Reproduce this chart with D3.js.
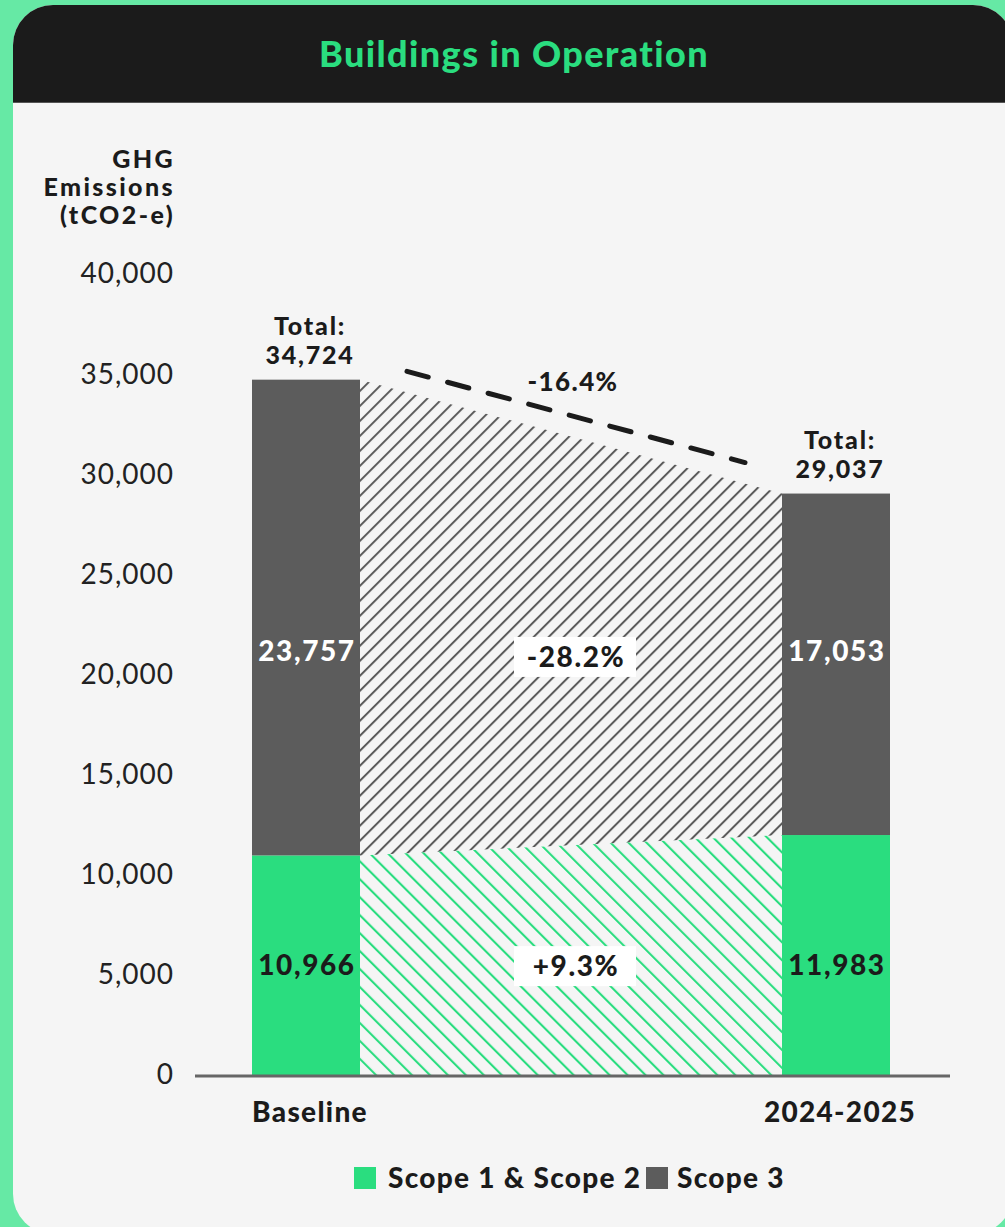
<!DOCTYPE html>
<html>
<head>
<meta charset="utf-8">
<script src="https://cdn.jsdelivr.net/npm/d3@7"></script>
<style>
  body { margin: 0; background: #66e9a5; }
  svg { display: block; }
</style>
</head>
<body>
<svg id="chart" width="1005" height="1227"></svg>
<script>
"use strict"

const categories = ["Baseline", "2024-2025"]
const scope12 = [10966, 11983]
const scope3 = [23757, 17053]
const totals = [34724, 29037]
const tickValues = [0, 5000, 10000, 15000, 20000, 25000, 30000, 35000, 40000]
const legendLabels = ["Scope 1 & Scope 2", "Scope 3"]

const GREEN = "#2add7f"
const GREY = "#5c5c5c"
const DARK = "#1b1b1b"
const FONT = "Lato, 'Open Sans', sans-serif"

const svg = d3.select("#chart")

// small helper for the bold labels
const bold = (sel, size, ls) => sel
    .style("font-family", FONT)
    .style("font-weight", 900)
    .style("font-size", size + "px")
    .style("letter-spacing", ls + "px")

// card
svg.append("rect")
    .attr("x", 13).attr("y", 5)
    .attr("width", 1000).attr("height", 1229)
    .attr("rx", 40)
    .attr("fill", "#f5f5f5")

// title bar, rounded only at top
svg.append("path")
    .attr("d", "M13,102 V45 A40,40 0 0 1 53,5 H973 A40,40 0 0 1 1013,45 V102 Z")
    .attr("fill", DARK)
svg.append("line")
    .attr("x1", 13).attr("x2", 1013)
    .attr("y1", 102.5).attr("y2", 102.5)
    .attr("stroke", "#555").attr("stroke-width", 1)

svg.append("text")
    .attr("x", 514).attr("y", 67)
    .attr("text-anchor", "middle")
    .attr("fill", GREEN)
    .call(bold, 36, 1.4)
    .text("Buildings in Operation")

// scales
const y = d3.scaleLinear().domain([0, 40000]).range([1075, 274])
const x = d3.scalePoint().domain(categories).range([306, 836])
const barW = 108

// patterns
const defs = svg.append("defs")
defs.append("pattern")
    .attr("id", "hatch-grey")
    .attr("patternUnits", "userSpaceOnUse")
    .attr("width", 10.6).attr("height", 10)
    .attr("patternTransform", "rotate(45)")
    .append("line")
    .attr("x1", 1).attr("x2", 1).attr("y1", 0).attr("y2", 10)
    .attr("stroke", GREY).attr("stroke-width", 2)

defs.append("pattern")
    .attr("id", "hatch-green")
    .attr("patternUnits", "userSpaceOnUse")
    .attr("width", 12.7).attr("height", 10)
    .attr("patternTransform", "rotate(-45)")
    .append("line")
    .attr("x1", 1).attr("x2", 1).attr("y1", 0).attr("y2", 10)
    .attr("stroke", GREEN).attr("stroke-width", 2.2)

// connecting hatched areas
const xl = x(categories[0]) + barW / 2
const xr = x(categories[1]) - barW / 2

svg.append("path")
    .attr("d", d3.line()([[xl, y(totals[0])], [xr, y(totals[1])], [xr, y(scope12[1])], [xl, y(scope12[0])]]) + "Z")
    .attr("fill", "url(#hatch-grey)")

svg.append("path")
    .attr("d", d3.line()([[xl, y(scope12[0])], [xr, y(scope12[1])], [xr, y(0)], [xl, y(0)]]) + "Z")
    .attr("fill", "url(#hatch-green)")

// stacked bars
const stackData = categories.map((c, i) => ({cat: c, s12: scope12[i], s3: scope3[i]}))
const series = d3.stack().keys(["s12", "s3"])(stackData)
const colors = {s12: GREEN, s3: GREY}

svg.selectAll(".layer")
    .data(series)
    .join("g")
    .attr("class", "layer")
    .attr("fill", d => colors[d.key])
    .selectAll("rect")
    .data(d => d)
    .join("rect")
    .attr("x", d => x(d.data.cat) - barW / 2)
    .attr("width", barW)
    .attr("y", d => y(d[1]))
    .attr("height", d => y(d[0]) - y(d[1]))

// y axis
const yAxis = d3.axisLeft(y).tickValues(tickValues).tickSize(0).tickPadding(0)
    .tickFormat(d3.format(","))
const gy = svg.append("g")
    .attr("transform", "translate(174,0)")
    .call(yAxis)
gy.select(".domain").remove()
gy.selectAll("text")
    .style("font-family", FONT)
    .style("font-size", "28px")
    .style("font-weight", 400)
    .style("letter-spacing", "1px")
    .attr("fill", "#222")

// x axis line
svg.append("line")
    .attr("x1", 195).attr("x2", 950)
    .attr("y1", y(0) + 1).attr("y2", y(0) + 1)
    .attr("stroke", "#666").attr("stroke-width", 3)

// y axis title
const yTitle = svg.append("text")
    .attr("text-anchor", "end")
    .attr("fill", DARK)
    .call(bold, 25, 2.4)
;["GHG", "Emissions", "(tCO2-e)"].forEach((t, i) => {
    yTitle.append("tspan").attr("x", 175).attr("y", 168 + i * 28).text(t)
})

// category labels
svg.selectAll(".cat-label")
    .data(categories)
    .join("text")
    .attr("class", "cat-label")
    .attr("x", d => x(d) + 4)
    .attr("y", 1122)
    .attr("text-anchor", "middle")
    .attr("fill", DARK)
    .call(bold, 28, 1.3)
    .text(d => d)

// total labels
const fmt = d3.format(",")
categories.forEach((c, i) => {
    const t = svg.append("text")
        .attr("text-anchor", "middle")
        .attr("fill", DARK)
        .call(bold, 25, 1.8)
    t.append("tspan").attr("x", x(c) + 4).attr("y", y(totals[i]) - 45).text("Total:")
    t.append("tspan").attr("x", x(c) + 4).attr("y", y(totals[i]) - 16).text(fmt(totals[i]))
})

// value labels inside bars (shared row per segment)
const midS3 = d3.mean(categories, (c, i) => scope12[i] + scope3[i] / 2)
const midS12 = d3.mean(categories, (c, i) => scope12[i] / 2)

const valueLabel = (cx, cy, txt, color, size) => svg.append("text")
    .attr("x", cx).attr("y", cy)
    .attr("text-anchor", "middle")
    .attr("dy", "0.36em")
    .attr("fill", color)
    .call(bold, size || 28, 1.6)
    .text(txt)

categories.forEach((c, i) => {
    valueLabel(x(c) + 1, y(midS3) + 10, fmt(scope3[i]), "#fff")
    valueLabel(x(c) + 1, y(midS12) + 5, fmt(scope12[i]), DARK)
})

// percentage changes
const pct = (a, b) => {
    const v = (b - a) / a
    return (v > 0 ? "+" : "") + d3.format(".1%")(v).replace("\u2212", "-")
}
const midX = (xl + xr) / 2

const boxedLabel = (cy, txt) => {
    svg.append("rect")
        .attr("x", midX - 57).attr("y", cy - 20)
        .attr("width", 122).attr("height", 40)
        .attr("fill", "#fff")
    valueLabel(midX + 5, cy, txt, DARK)
}
boxedLabel(y(midS3) + 16, pct(scope3[0], scope3[1]))
boxedLabel(y(midS12) + 6, pct(scope12[0], scope12[1]))

// dashed total trend line
const topAt = px => y(totals[0]) + (px - xl) / (xr - xl) * (y(totals[1]) - y(totals[0]))
const dx1 = xl + 47, dx2 = xr - 37
svg.append("line")
    .attr("x1", dx1).attr("y1", topAt(dx1) - 21)
    .attr("x2", dx2).attr("y2", topAt(dx2) - 21)
    .attr("stroke", DARK)
    .attr("stroke-width", 5)
    .attr("stroke-linecap", "round")
    .attr("stroke-dasharray", "22,20")

svg.append("text")
    .attr("x", midX + 2).attr("y", 391)
    .attr("text-anchor", "middle")
    .attr("fill", DARK)
    .call(bold, 26, 1.4)
    .text(pct(totals[0], totals[1]))

// legend
const legend = svg.append("g").attr("transform", "translate(354,1167)")
const legendColors = [GREEN, GREY]
const legendX = [0, 292]
const legendGap = [34, 31]
legendLabels.forEach((l, i) => {
    legend.append("rect")
        .attr("x", legendX[i]).attr("y", 0)
        .attr("width", 22).attr("height", 22)
        .attr("fill", legendColors[i])
    legend.append("text")
        .attr("x", legendX[i] + legendGap[i]).attr("y", 21)
        .attr("fill", DARK)
        .call(bold, 28, 1.3)
        .text(l)
})
</script>
</body>
</html>
